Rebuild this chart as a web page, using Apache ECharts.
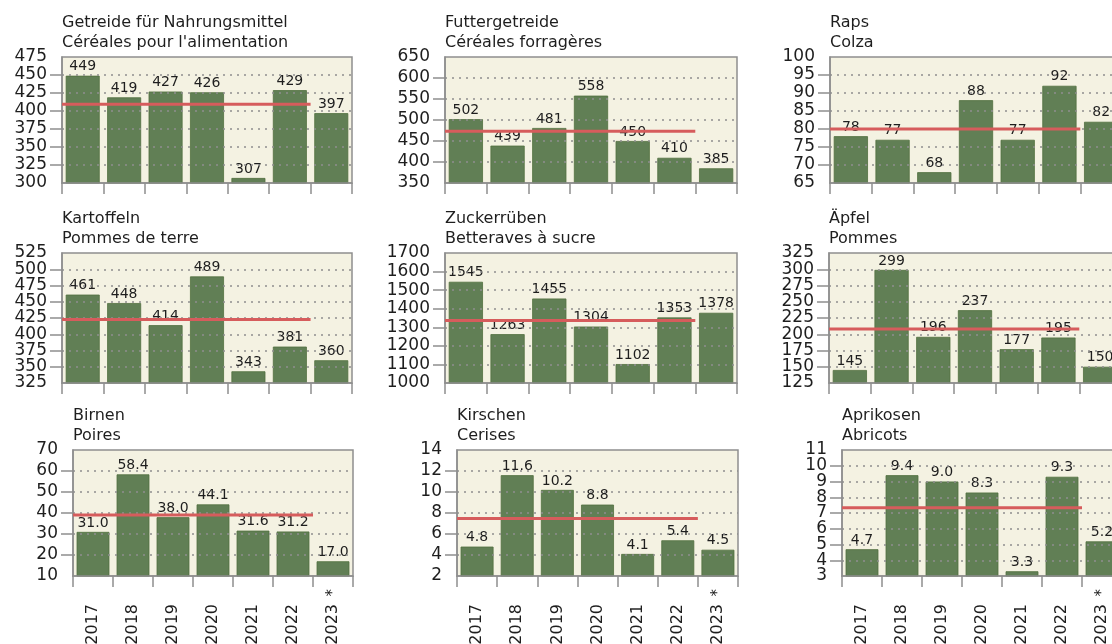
<!DOCTYPE html>
<html><head><meta charset="utf-8">
<script src="https://cdn.jsdelivr.net/npm/echarts@6/dist/echarts.min.js"></script>
<style>html,body{margin:0;padding:0;background:#fff}#c{width:1112px;height:644px}</style>
</head><body><div id="c"></div>
<script>
// ---- data ----
const years = ['2017', '2018', '2019', '2020', '2021', '2022', '2023'];
const noteLabels = ['', '', '', '', '', '', '*'];
const titles = [
  'Getreide für Nahrungsmittel\nCéréales pour l\'alimentation',
  'Futtergetreide\nCéréales forragères',
  'Raps\nColza',
  'Kartoffeln\nPommes de terre',
  'Zuckerrüben\nBetteraves à sucre',
  'Äpfel\nPommes',
  'Birnen\nPoires',
  'Kirschen\nCerises',
  'Aprikosen\nAbricots'
];
const getreide   = [449, 419, 427, 426, 307, 429, 397];
const futter     = [502, 439, 481, 558, 450, 410, 385];
const raps       = [78, 77, 68, 88, 77, 92, 82];
const kartoffeln = [461, 448, 414, 489, 343, 381, 360];
const zucker     = [1545, 1263, 1455, 1304, 1102, 1353, 1378];
const aepfel     = [145, 299, 196, 237, 177, 195, 150];
const birnen     = [31.0, 58.4, 38.0, 44.1, 31.6, 31.2, 17.0];
const kirschen   = [4.8, 11.6, 10.2, 8.8, 4.1, 5.4, 4.5];
const aprikosen  = [4.7, 9.4, 9.0, 8.3, 3.3, 9.3, 5.2];
// 2017-2022 average lines (red)
const averages = [409.5, 473.3, 80.0, 422.7, 1337, 208.2, 39.05, 7.48, 7.33];
// y-axis ranges
const yMin  = [300, 350, 65, 325, 1000, 125, 10, 2, 3];
const yMax  = [475, 650, 100, 525, 1700, 325, 70, 14, 11];
const yStep = [25, 50, 5, 25, 100, 25, 10, 2, 1];
const decimals = [0, 0, 0, 0, 0, 0, 1, 1, 1];
const seriesData = [getreide, futter, raps, kartoffeln, zucker, aepfel, birnen, kirschen, aprikosen];

// ---- layout ----
const layout = [
  {left: 62,  top: 57,  width: 290, height: 126},
  {left: 445, top: 57,  width: 292, height: 126},
  {left: 830, top: 57,  width: 292, height: 126},
  {left: 62,  top: 253, width: 290, height: 130},
  {left: 445, top: 253, width: 292, height: 130},
  {left: 829, top: 253, width: 292, height: 130},
  {left: 73,  top: 450, width: 280, height: 126},
  {left: 457, top: 450, width: 281, height: 126},
  {left: 842, top: 450, width: 280, height: 126}
];
const titleTop = [13, 13, 13, 209, 209, 209, 406, 406, 406];

const FONT = 'DejaVu Sans';
const BAR = '#617f55';
const BG = '#f4f2e2';
const GRAYLINE = '#8e8e8e';
const RED = '#d65c5c';
const TXT = '#1e1e1e';
const YFS = 17;

const option = {
  animation: false,
  backgroundColor: '#ffffff',
  textStyle: {fontFamily: FONT},
  title: [], grid: [], xAxis: [], yAxis: [], series: []
};

for (let i = 0; i < 9; i++) {
  const L = layout[i];
  const bottomRow = i >= 6;
  option.title.push({
    text: titles[i], left: L.left, top: titleTop[i], padding: 0,
    textStyle: {fontFamily: FONT, fontSize: 16, fontWeight: 'normal', color: TXT, lineHeight: 20}
  });
  option.grid.push({
    left: L.left, top: L.top, width: L.width, height: L.height,
    show: true, backgroundColor: BG, borderColor: GRAYLINE, borderWidth: 1.5,
    containLabel: false, outerBoundsMode: 'none'
  });
  // main category axis
  option.xAxis.push({
    type: 'category', gridIndex: i, data: years, position: 'bottom', z: 3,
    boundaryGap: true,
    axisLine: {show: true, lineStyle: {color: GRAYLINE, width: 1.5}},
    axisTick: {show: true, alignWithLabel: false, interval: 0, length: 11, lineStyle: {color: GRAYLINE, width: 1.5}},
    axisLabel: {show: bottomRow, rotate: 90, margin: 28, fontFamily: FONT, fontSize: 16, color: TXT, interval: 0},
    splitLine: {show: false}
  });
  // hidden value axis for the average line
  option.xAxis.push({
    type: 'value', gridIndex: i, min: 0, max: 7, show: false
  });
  // note axis (asterisk)
  option.xAxis.push({
    type: 'category', gridIndex: i, data: noteLabels, position: 'bottom', show: bottomRow,
    axisLine: {show: false}, axisTick: {show: false}, splitLine: {show: false},
    axisLabel: {show: bottomRow, rotate: 90, margin: 13, fontFamily: FONT, fontSize: 15, color: TXT, interval: 0}
  });
  // main y axis: inner labels, ticks, grid lines
  option.yAxis.push({
    type: 'value', gridIndex: i, min: yMin[i], max: yMax[i], interval: yStep[i], z: 3,
    position: 'left',
    axisLine: {show: true, lineStyle: {color: GRAYLINE, width: 1.5}},
    axisTick: {show: true, length: 12, lineStyle: {color: GRAYLINE, width: 1.5}},
    axisLabel: {margin: 15, fontFamily: FONT, fontSize: YFS, color: TXT,
      showMinLabel: false, showMaxLabel: false, hideOverlap: false,
      formatter: v => String(v)},
    splitLine: {show: true, showMinLine: false, showMaxLine: false,
      lineStyle: {color: '#8f8f8f', width: 1.5, type: [2, 5]}}
  });
  // companion y axis: only min and max labels
  const lo = yMin[i], hi = yMax[i];
  option.yAxis.push({
    type: 'value', gridIndex: i, min: lo, max: hi, interval: hi - lo, z: 3,
    position: 'left', offset: 0,
    axisLine: {show: false}, axisTick: {show: false}, splitLine: {show: false},
    axisLabel: {margin: 15, fontFamily: FONT, fontSize: YFS, color: TXT,
      showMinLabel: true, showMaxLabel: true, hideOverlap: false,
      formatter: v => String(v)}
  });
  const d = decimals[i];
  option.series.push({
    type: 'bar', xAxisIndex: i * 3, yAxisIndex: i * 2, data: seriesData[i],
    barCategoryGap: '18%', z: 2,
    itemStyle: {color: BAR, borderColor: '#52703f', borderWidth: 0.8},
    label: {show: true, position: 'top', distance: 2, fontFamily: FONT, fontSize: 14, color: TXT,
      formatter: p => Number(p.value).toFixed(d)}
  });
  option.series.push({
    type: 'line', xAxisIndex: i * 3 + 1, yAxisIndex: i * 2,
    data: [[0, averages[i]], [6, averages[i]]],
    symbol: 'none', silent: true, z: 5,
    lineStyle: {color: RED, width: 3}
  });
}

const chart = echarts.init(document.getElementById('c'), null, {renderer: 'canvas'});
chart.setOption(option);
</script>
</body></html>
